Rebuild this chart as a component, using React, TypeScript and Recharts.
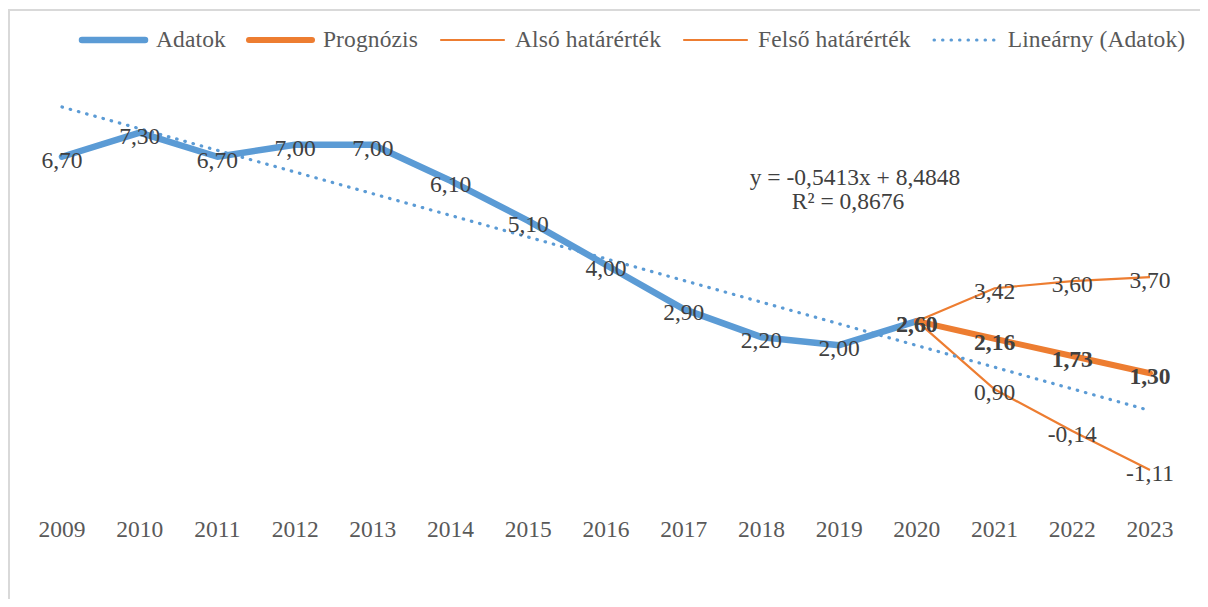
import { LineChart, Line, XAxis, YAxis } from 'recharts';

// ─── Data ─────────────────────────────────────────────────────────────────────

const years = ['2009', '2010', '2011', '2012', '2013', '2014', '2015', '2016', '2017', '2018', '2019', '2020', '2021', '2022', '2023'];
const adatok = [6.7, 7.3, 6.7, 7.0, 7.0, 6.1, 5.1, 4.0, 2.9, 2.2, 2.0, 2.6, null, null, null];
const prognozis = [null, null, null, null, null, null, null, null, null, null, null, 2.6, 2.16, 1.73, 1.3];
const alsoHatar = [null, null, null, null, null, null, null, null, null, null, null, 2.6, 0.9, -0.14, -1.11];
const felsoHatar = [null, null, null, null, null, null, null, null, null, null, null, 2.6, 3.42, 3.6, 3.7];
// trendline end points (y = -0,5413x + 8,4848)
const trend = [7.94, null, null, null, null, null, null, null, null, null, null, null, null, null, 0.37];

const data = years.map((year, i) => ({
  year,
  adatok: adatok[i],
  prognozis: prognozis[i],
  also: alsoHatar[i],
  felso: felsoHatar[i],
  trend: trend[i],
}));

const BLUE = '#5B9BD5';
const ORANGE = '#ED7D31';
const FONT = '"Liberation Serif", "Times New Roman", serif';

// ─── Labels ───────────────────────────────────────────────────────────────────

const fmt = (v: number) => v.toFixed(2).replace('.', ',');

function makeLabel(bold: boolean, skipIndex?: number) {
  return (props: any) => {
    const { x, y, value, index } = props;
    if (value == null || index === skipIndex) return null;
    return (
      <text
        x={x}
        y={y + 3}
        textAnchor="middle"
        dominantBaseline="central"
        fontFamily={FONT}
        fontSize={23.5}
        fontWeight={bold ? 700 : 400}
        fill="#404040"
      >
        {fmt(value)}
      </text>
    );
  };
}

// ─── Legend ───────────────────────────────────────────────────────────────────

const legendItems = [
  { name: 'Adatok', color: BLUE, width: 6.5, dotted: false },
  { name: 'Prognózis', color: ORANGE, width: 6, dotted: false },
  { name: 'Alsó határérték', color: ORANGE, width: 2.2, dotted: false },
  { name: 'Felső határérték', color: ORANGE, width: 2.2, dotted: false },
  { name: 'Lineárny (Adatok)', color: BLUE, width: 3, dotted: true },
];

function ChartLegend() {
  return (
    <div
      style={{
        position: 'absolute',
        left: 70,
        top: 18,
        display: 'flex',
        alignItems: 'center',
        fontFamily: FONT,
        fontSize: 23.5,
        letterSpacing: 0.12,
        color: '#595959',
        whiteSpace: 'nowrap',
      }}
    >
      {legendItems.map((it) => (
        <div key={it.name} style={{ display: 'flex', alignItems: 'center', marginRight: 19 }}>
          <svg width={71} height={12} style={{ marginRight: 7 }}>
            <line
              x1={4}
              x2={67}
              y1={6}
              y2={6}
              stroke={it.color}
              strokeWidth={it.width}
              strokeLinecap="round"
              strokeDasharray={it.dotted ? '0.5 8' : undefined}
            />
          </svg>
          <span>{it.name}</span>
        </div>
      ))}
    </div>
  );
}

// ─── Chart ────────────────────────────────────────────────────────────────────

export default function App() {
  return (
    <div style={{ position: 'relative', width: 1200, height: 591 }}>
      <style>{'body{overflow:hidden}'}</style>
      <div
        style={{
          position: 'absolute',
          left: 0,
          top: 1,
          width: 1220,
          height: 620,
          borderTop: '2px solid #d9d9d9',
          borderLeft: '2px solid #d9d9d9',
          boxSizing: 'border-box',
        }}
      />
      <div style={{ position: 'absolute', left: 0, top: 0 }}>
        <LineChart
          width={1200}
          height={599}
          data={data}
          margin={{ top: 96.6, right: 58, bottom: 61.4, left: 54 }}
        >
          <XAxis
            dataKey="year"
            axisLine={false}
            tickLine={false}
            height={40}
            tickMargin={9}
            interval={0}
            tick={{ fontSize: 23.5, fontFamily: FONT, fill: '#595959' }}
          />
          <YAxis hide domain={[-2, 8]} type="number" />
          <Line dataKey="adatok" stroke={BLUE} strokeWidth={6.5} dot={false} strokeLinecap="round" strokeLinejoin="round" isAnimationActive={false} />
          <Line dataKey="prognozis" stroke={ORANGE} strokeWidth={6} dot={false} strokeLinecap="round" strokeLinejoin="round" isAnimationActive={false} />
          <Line dataKey="also" stroke={ORANGE} strokeWidth={2.2} dot={false} isAnimationActive={false} />
          <Line dataKey="felso" stroke={ORANGE} strokeWidth={2.2} dot={false} isAnimationActive={false} />
          <Line
            dataKey="trend"
            stroke={BLUE}
            strokeWidth={3.2}
            strokeDasharray="0.5 8"
            strokeLinecap="round"
            connectNulls
            dot={false}
            isAnimationActive={false}
          />
          {/* label-only series so the labels sit above every line */}
          <Line dataKey="adatok" stroke="none" dot={false} label={makeLabel(false)} isAnimationActive={false} legendType="none" />
          <Line dataKey="also" stroke="none" dot={false} label={makeLabel(false, 11)} isAnimationActive={false} legendType="none" />
          <Line dataKey="felso" stroke="none" dot={false} label={makeLabel(false, 11)} isAnimationActive={false} legendType="none" />
          <Line dataKey="prognozis" stroke="none" dot={false} label={makeLabel(true)} isAnimationActive={false} legendType="none" />
        </LineChart>
      </div>
      <ChartLegend />
      <div
        style={{
          position: 'absolute',
          left: 847,
          top: 181,
          transform: 'translate(-50%, -50%)',
          fontFamily: FONT,
          fontSize: 23.5,
          color: '#404040',
          whiteSpace: 'nowrap',
          textAlign: 'center',
          lineHeight: '24px',
        }}
      >
        <div>y = -0,5413x + 8,4848</div>
        <div style={{ marginLeft: -14 }}>R² = 0,8676</div>
      </div>
    </div>
  );
}
